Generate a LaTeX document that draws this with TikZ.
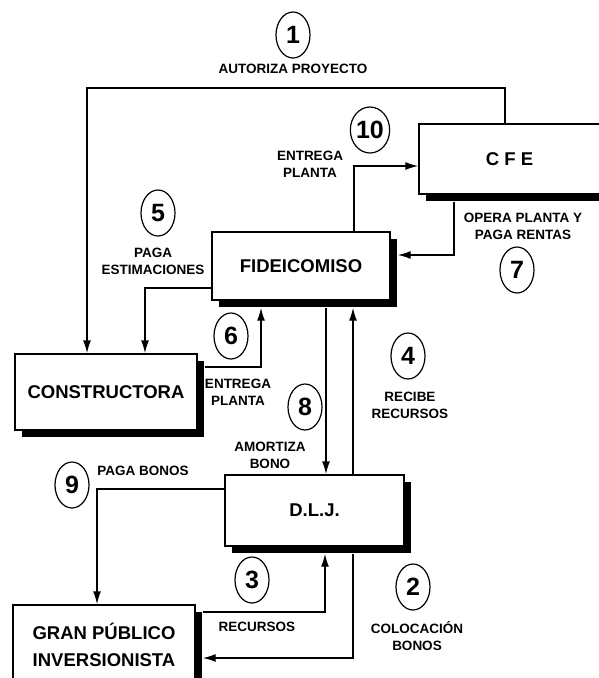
\documentclass[tikz,border=0pt]{standalone}
\usepackage{fontspec}
\setmainfont{Liberation Sans}
\usetikzlibrary{shapes.geometric,shadows,arrows.meta}

\begin{document}
\begin{tikzpicture}[x=1pt,y=-1pt,
    box/.style={draw, line width=1.4pt, fill=white, inner sep=0pt, align=center,
      font=\bfseries\fontsize{18.5}{27}\selectfont,
      drop shadow={shadow xshift=7pt, shadow yshift=-7pt, fill=black, opacity=1}},
    numnode/.style={ellipse, draw, line width=1.2pt, minimum width=34pt, minimum height=46pt, inner sep=0pt,
      font=\bfseries\fontsize{25}{25}\selectfont},
    lbl/.style={inner sep=0pt, align=center, font=\bfseries\fontsize{13.5}{17}\selectfont},
    flow/.style={line width=1.4pt, -{Latex[length=13pt,width=8pt]}}
    ]
    \useasboundingbox (0,0) rectangle (598,678);

    \node [box, minimum width=181pt, minimum height=70pt] (cfe) at (509.5,159) {C F E};
    \node [box, minimum width=178pt, minimum height=68pt] (fid) at (301,266) {FIDEICOMISO};
    \node [box, minimum width=182pt, minimum height=76pt] (cons) at (106,392) {CONSTRUCTORA};
    \node [box, minimum width=179pt, minimum height=71pt] (dlj) at (314.5,510.5) {D.L.J.};
    \node [box, minimum width=182pt, minimum height=79pt] (gp) at (104,644.5) {GRAN PÚBLICO\\INVERSIONISTA};

    \node [numnode] (n1) at (293,35) {1};
    \node [numnode] (n2) at (413,587) {2};
    \node [numnode] (n3) at (252,580) {3};
    \node [numnode] (n4) at (408,356) {4};
    \node [numnode] (n5) at (158,213) {5};
    \node [numnode] (n6) at (231,336) {6};
    \node [numnode] (n7) at (517,270) {7};
    \node [numnode] (n8) at (305,407) {8};
    \node [numnode] (n9) at (72,485) {9};
    \node [numnode] (n10) at (370,130) {10};

    \node [lbl] (t1) at (293,69) {AUTORIZA PROYECTO};
    \node [lbl] (t2) at (417,636) {COLOCACIÓN\\BONOS};
    \node [lbl] (t3) at (257,627) {RECURSOS};
    \node [lbl] (t4) at (410,405) {RECIBE\\RECURSOS};
    \node [lbl] (t5) at (153,261) {PAGA\\ESTIMACIONES};
    \node [lbl] (t6) at (238,392) {ENTREGA\\PLANTA};
    \node [lbl] (t7) at (523,226) {OPERA PLANTA Y\\PAGA RENTAS};
    \node [lbl] (t8) at (270,455) {AMORTIZA\\BONO};
    \node [lbl] (t9) at (143,471) {PAGA BONOS};
    \node [lbl] (t10) at (310,164) {ENTREGA\\PLANTA};

    \coordinate (k1) at (87,88);
    \draw [flow] ([xshift=-4.5pt]cfe.north) |- (k1) -- ([xshift=-19pt]cons.north);
    \draw [flow] ([xshift=53pt]fid.north) |- ([yshift=-7pt]cfe.west);
    \draw [flow] ([xshift=-55.5pt,yshift=-7pt]cfe.south) |- ([xshift=7pt,yshift=11pt]fid.east);
    \draw [flow] ([yshift=-22pt]fid.west) -| ([xshift=39pt]cons.north);
    \draw [flow] ([xshift=7pt,yshift=25pt]cons.east) -| ([xshift=-40pt,yshift=-7pt]fid.south);
    \draw [flow] ([xshift=25pt,yshift=-7pt]fid.south) -- ([xshift=11.5pt]dlj.north);
    \draw [flow] ([xshift=38.5pt]dlj.north) -- ([xshift=52pt,yshift=-7pt]fid.south);
    \draw [flow] ([yshift=21.5pt]dlj.west) -| ([xshift=-7pt]gp.north);
    \draw [flow] ([xshift=7pt,yshift=32.5pt]gp.east) -| ([xshift=10.5pt,yshift=-7pt]dlj.south);
    \draw [flow] ([xshift=38.5pt,yshift=-7pt]dlj.south) |- ([xshift=7pt,yshift=-13.5pt]gp.east);
\end{tikzpicture}
\end{document}
